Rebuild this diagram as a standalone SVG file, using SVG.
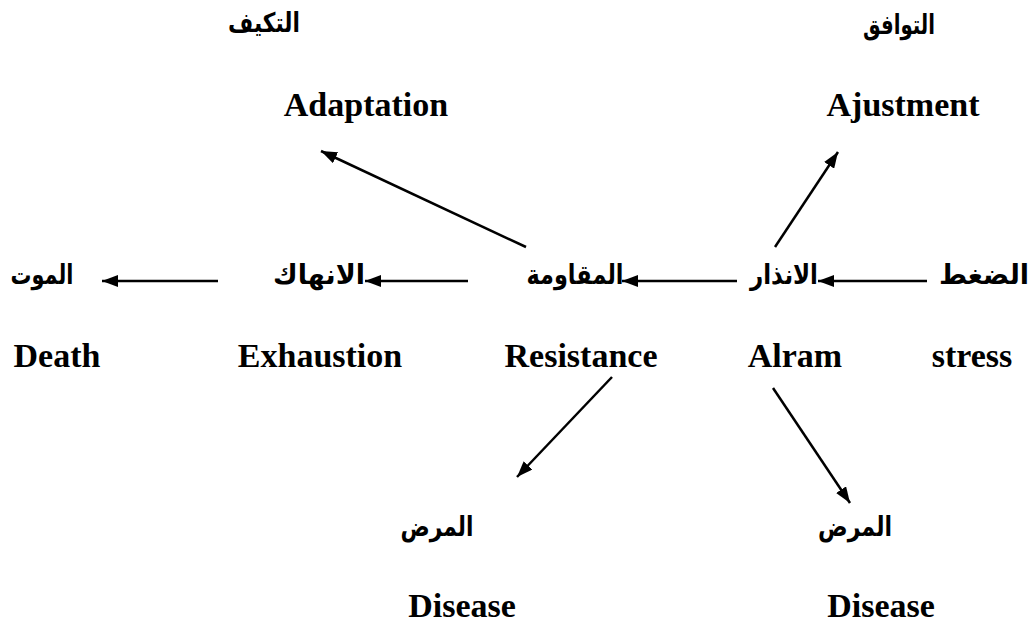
<svg xmlns="http://www.w3.org/2000/svg" width="1033" height="624" viewBox="0 0 1033 624">
<style>
.en{font-family:"Liberation Serif","Times New Roman",serif;font-weight:bold;font-size:34px;fill:#000;text-anchor:middle}
.ar{font-family:"DejaVu Sans","Noto Sans",sans-serif;font-weight:bold;font-size:27px;fill:#000;text-anchor:middle}
.c{stroke:#000;stroke-width:2.5;fill:none;marker-end:url(#ah)}
</style>
<defs>
<marker id="ah" viewBox="0 0 16 12" refX="16" refY="6" markerWidth="16" markerHeight="12" markerUnits="userSpaceOnUse" orient="auto">
<path d="M0,0 L16,6 L0,12 z" fill="#000"/>
</marker>
</defs>
<rect width="1033" height="624" fill="#fff"/>
<g id="stress"><text class="ar" x="984" y="284" font-size="22">الضغط</text><text class="en" x="972" y="367">stress</text></g>
<g id="alarm"><text class="ar" x="784" y="284" textLength="68" lengthAdjust="spacingAndGlyphs">الانذار</text><text class="en" x="795" y="367">Alram</text></g>
<g id="resistance"><text class="ar" x="575" y="284" textLength="97" lengthAdjust="spacingAndGlyphs">المقاومة</text><text class="en" x="581" y="367">Resistance</text></g>
<g id="exhaustion"><text class="ar" x="319" y="284" textLength="92" lengthAdjust="spacingAndGlyphs">الانهاك</text><text class="en" x="320" y="367">Exhaustion</text></g>
<g id="death"><text class="ar" x="42" y="284" textLength="63" lengthAdjust="spacingAndGlyphs">الموت</text><text class="en" x="57" y="367">Death</text></g>
<g id="adaptation"><text class="ar" x="264" y="32" textLength="72" lengthAdjust="spacingAndGlyphs">التكيف</text><text class="en" x="366" y="116">Adaptation</text></g>
<g id="adjustment"><text class="ar" x="899" y="34" textLength="72" lengthAdjust="spacingAndGlyphs">التوافق</text><text class="en" x="903" y="116">Ajustment</text></g>
<g id="disease1"><text class="ar" x="437" y="536" textLength="73" lengthAdjust="spacingAndGlyphs">المرض</text><text class="en" x="462" y="617">Disease</text></g>
<g id="disease2"><text class="ar" x="855" y="536" textLength="74" lengthAdjust="spacingAndGlyphs">المرض</text><text class="en" x="881" y="617">Disease</text></g>
<g id="connectors">
<line class="c" x1="927" y1="281" x2="818" y2="281"/>
<line class="c" x1="737" y1="281" x2="622" y2="281"/>
<line class="c" x1="468" y1="281" x2="365" y2="281"/>
<line class="c" x1="218" y1="281" x2="102" y2="281"/>
<line class="c" x1="526" y1="247" x2="321" y2="151"/>
<line class="c" x1="775" y1="247" x2="838" y2="152"/>
<line class="c" x1="612" y1="377" x2="517" y2="477"/>
<line class="c" x1="773" y1="388" x2="850" y2="503"/>
</g>
</svg>
